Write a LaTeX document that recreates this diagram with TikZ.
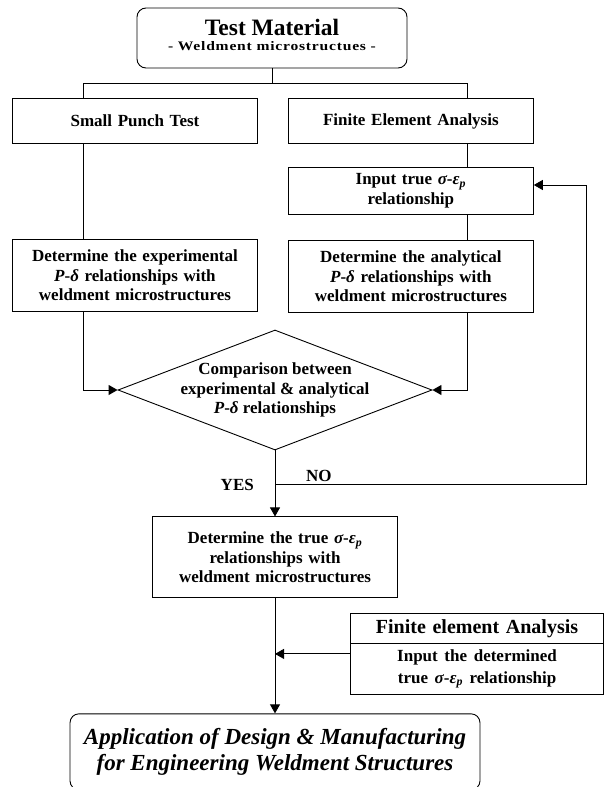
\documentclass[tikz,border=0pt]{standalone}
\usepackage{fontspec}
\setmainfont{Liberation Serif}
\newfontfamily\spacedfont{Liberation Serif}[FakeStretch=1.2, LetterSpace=6]
\usepackage{tikz}
\usetikzlibrary{shapes.geometric, shapes.multipart, arrows.meta, positioning}
\newcommand{\bodysize}{\bfseries\fontsize{17}{19.5}\selectfont}
\newcommand{\sigeps}{{\itshape σ}-{\itshape ε}\textsubscript{\itshape p}}
\newcommand{\pdelta}{{\itshape P}-{\itshape δ}}
\tikzset{
  box/.style={rectangle, draw, line width=0.9pt, align=center, text width=235pt, inner xsep=5pt, inner ysep=0pt, font=\bodysize},
  decision/.style={diamond, draw, line width=0.9pt, aspect=2.6, align=center, inner sep=-6pt, minimum width=314pt, minimum height=120pt, font=\bodysize},
  terminal/.style={rectangle, draw, line width=0.9pt, rounded corners=9pt, align=center, inner sep=0pt},
  splitbox/.style={rectangle split, rectangle split parts=2, draw, line width=0.9pt, align=center, text width=243pt, inner xsep=5pt, inner ysep=5.5pt, font=\bfseries\fontsize{20}{22}\selectfont},
  arrow/.style={-{Triangle[length=9pt, width=10pt]}, line width=0.9pt},
  link/.style={line width=0.9pt},
  lbl/.style={font=\bodysize, inner sep=3pt},
}

\begin{document}
\begin{tikzpicture}[x=1pt, y=1pt, node distance=25pt]
  \useasboundingbox (0,0) rectangle (605,-787);
  \coordinate (lx) at (83,0);
  \coordinate (rx) at (467,0);
  \node[terminal, minimum width=270pt, minimum height=60pt, font=\bfseries\fontsize{23.5}{15}\selectfont] (material) at (272,-38) {Test Material\\{\spacedfont\fontsize{13}{15}\selectfont - Weldment microstructues -}\rule[-6pt]{0pt}{6pt}};
  \node[box, minimum height=45pt, anchor=north west] (spt) at (12,-98) {Small Punch Test};
  \node[box, minimum height=45pt, right=30pt of spt] (fea) {Finite Element Analysis};
  \node[box, minimum height=47pt, below=23pt of fea] (input) {Input true \sigeps\\relationship};
  \node[box, minimum height=72pt, below=25pt of input] (detana) {Determine the analytical\\\pdelta{} relationships with\\weldment microstructures};
  \node[box, minimum height=72pt, below=95pt of spt] (detexp) {Determine the experimental\\\pdelta{} relationships with\\weldment microstructures};
  \node[decision] (cmp) at (275,-390) {Comparison between\\experimental \& analytical\\\pdelta{} relationships};
  \node[box, minimum height=81pt, below=66pt of cmp] (truebox) {Determine the true \sigeps\\relationships with\\weldment microstructures};
  \node[splitbox, anchor=north east] (fea2) at (604,-613) {Finite element Analysis\nodepart{two}\fontsize{17}{26}\selectfont Input the determined\\true \sigeps{} relationship};
  \node[terminal, minimum width=410pt, minimum height=76pt, below=115pt of truebox, font=\bfseries\itshape\fontsize{23}{26}\selectfont] (app) {Application of Design \& Manufacturing\\for Engineering Weldment Structures};
  \draw[link] (material.south) -- ++(0,-15) coordinate (fork);
  \draw[link] (fork -| lx) -- (fork -| rx);
  \draw[link] (fork -| lx) -- (spt.north -| lx);
  \draw[link] (fork -| rx) -- (fea.north -| rx);
  \draw[link] (spt.south -| lx) -- (detexp.north -| lx);
  \draw[link] (fea.south -| rx) -- (input.north -| rx);
  \draw[link] (input.south -| rx) -- (detana.north -| rx);
  \draw[arrow] (detexp.south -| lx) |- (cmp.west);
  \draw[arrow] (detana.south -| rx) |- (cmp.east);
  \draw[arrow] (cmp.south) -- (truebox.north);
  \coordinate[below=34pt of cmp.south] (branch);
  \coordinate (back) at (586,-185);
  \draw[arrow] (branch) -| (back) -- (back -| input.east);
  \node[lbl, left=18pt of branch] (yes) {YES};
  \node[lbl, above right=0pt and 28pt of branch] (no) {NO};
  \draw[arrow] (fea2.west) -- (fea2.west -| truebox.south);
  \draw[arrow] (truebox.south) -- (app.north);
\end{tikzpicture}
\end{document}
